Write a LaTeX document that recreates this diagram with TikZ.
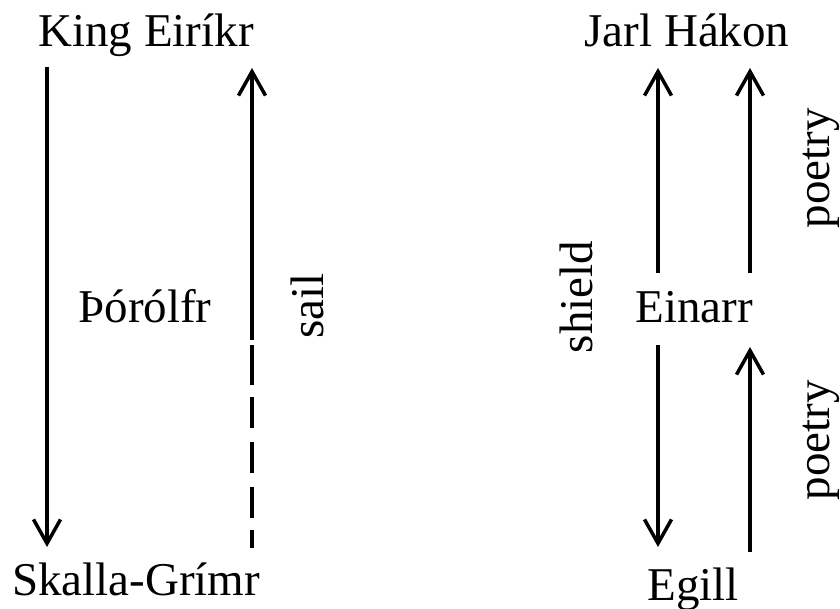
\documentclass[tikz,border=0pt]{standalone}
\usepackage{fontspec}
\setmainfont{Liberation Serif}
\usetikzlibrary{arrows.meta}
\begin{document}
\begin{tikzpicture}[x=1pt,y=-1pt,
  lbl/.style={anchor=base,inner sep=0pt,font=\fontsize{47pt}{51pt}\selectfont},
  rlbl/.style={lbl,rotate=90},
  conn/.style={line width=3.5pt},
  arr/.style={conn,-{Straight Barb[length=24pt,width=27pt,line width=3.5pt]}}]
\useasboundingbox (0,0) rectangle (840,609);
% nodes
\node[lbl] (king) at (146,47) {King Eiríkr};
\node[lbl] (skalla) at (136,595) {Skalla-Grímr};
\node[lbl] (thor) at (145,323) {Þórólfr};
\node[rlbl] (sail) at (323,306) {sail};
\node[lbl] (jarl) at (687,47) {Jarl Hákon};
\node[lbl] (einarr) at (694,323) {Einarr};
\node[lbl] (egill) at (693,600) {Egill};
\node[rlbl] (shield) at (592,297) {shield};
\node[rlbl] (poetryA) at (829,168) {poetry};
\node[rlbl] (poetryB) at (829,440) {poetry};
% connector end points
\coordinate (k1) at (47,67);
\coordinate (s1) at (47,547);
\coordinate (k2) at (252,68);
\coordinate (m2) at (252,340);
\coordinate (d2) at (252,345);
\coordinate (s2) at (252,548);
\coordinate (j1) at (658,68);
\coordinate (e1) at (658,273);
\coordinate (j2) at (750,68);
\coordinate (e2) at (750,273);
\coordinate (e3) at (658,345);
\coordinate (g3) at (658,547);
\coordinate (e4) at (750,347);
\coordinate (g4) at (750,552);
% connectors
\draw[arr] (k1) -- (s1);
\draw[arr] (m2) -- (k2);
\draw[conn,dash pattern=on 40pt off 12pt on 31pt off 14pt on 31pt off 14pt on 31pt off 12pt on 30pt] (d2) -- (s2);
\draw[arr] (e1) -- (j1);
\draw[arr] (e2) -- (j2);
\draw[arr] (e3) -- (g3);
\draw[arr] (g4) -- (e4);
\end{tikzpicture}
\end{document}
